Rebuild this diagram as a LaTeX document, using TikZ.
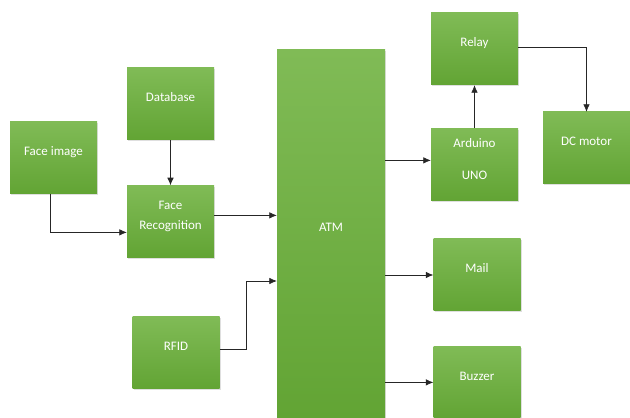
\documentclass[tikz,border=0pt]{standalone}
\usepackage{fontspec}
\setmainfont{Carlito}
\usetikzlibrary{arrows.meta, positioning, shadows}

\definecolor{boxtop}{RGB}{128,187,86}
\definecolor{boxbottom}{RGB}{98,164,52}

\begin{document}
\begin{tikzpicture}[x=1pt, y=1pt,
    block/.style={rectangle, top color=boxtop, bottom color=boxbottom, draw=none, text=white,
      font=\fontsize{13}{15.5}\selectfont, minimum width=87pt, inner sep=0pt,
      text height=33.9pt, text depth=38.1pt,
      drop shadow={opacity=0.25, shadow xshift=1pt, shadow yshift=-1.5pt}},
    arr/.style={-{Latex[length=7.5pt,width=6.5pt]}, line width=0.65pt, draw=black!85}]
        \path[use as bounding box, fill=white] (0,0) rectangle (630,418);

        \node[block] (faceimg) at (53.5,260) {Face image};
        \node[block] (database) at (170.5,314) {Database};
        \node[block, text height=23.9pt, text depth=48.1pt] (facerec) [below = 45pt of database]
            {\begin{tabular}[t]{@{}c@{}}Face\\[4.5pt]Recognition\end{tabular}};
        \node[block] (rfid) at (176,65) {RFID};

        \node[block, minimum width=108pt, text height=181.9pt, text depth=186.1pt] (atm) at (331,184) {ATM};

        \node[block] (relay) at (474.5,369) {Relay};
        \node[block, text height=18.9pt, text depth=53.1pt] (arduino) [below = 43pt of relay]
            {\begin{tabular}[t]{@{}c@{}}Arduino\\[16.5pt]UNO\end{tabular}};
        \node[block] (dcmotor) at (586.5,270) {DC motor};
        \node[block] (mail) at (477,143) {Mail};
        \node[block] (buzzer) [below = 35pt of mail] {Buzzer};

        % inputs
        \coordinate (recout) at ([yshift=6pt]facerec.east);
        \coordinate (rfidout) at ([yshift=4pt]rfid.east);
        \coordinate (atmin) at ([yshift=-47pt]atm.west);
        \draw[arr] ([xshift=-3.5pt]faceimg.south) |- ([yshift=-11pt]facerec.west);
        \draw[arr] (database) -- (facerec);
        \draw[arr] (recout) -- (recout -| atm.west);
        \draw[arr] (rfidout) -- ++(27pt,0) |- (atmin);

        % outputs
        \coordinate (ardin) at ([yshift=4pt]arduino.west);
        \draw[arr] (ardin -| atm.east) -- (ardin);
        \draw[arr] (arduino) -- (relay);
        \draw[arr] ([yshift=2pt]relay.east) -| (dcmotor.north);
        \draw[arr] (mail.west -| atm.east) -- (mail.west);
        \draw[arr] (buzzer.west -| atm.east) -- (buzzer.west);
    \end{tikzpicture}
\end{document}
